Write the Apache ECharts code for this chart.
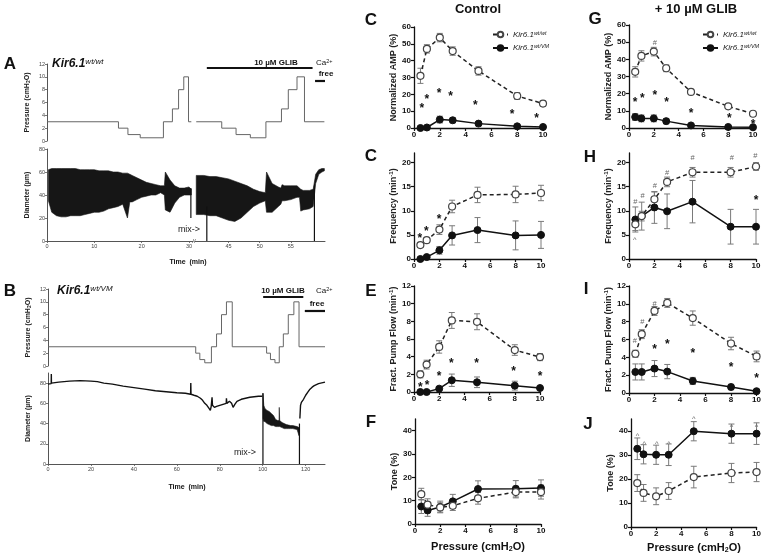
<!DOCTYPE html>
<html><head><meta charset="utf-8">
<script src="https://cdn.jsdelivr.net/npm/echarts@6/dist/echarts.min.js"></script>
<style>html,body{margin:0;padding:0;background:#fff}#c{width:764px;height:557px}</style>
</head><body><div id="c"></div>
<script>
// ================= DATA =================
const pressures = [0.5, 1, 2, 3, 5, 8, 10];
const xTicks = [0, 2, 4, 6, 8, 10];

// ---- Control column ----
const ampCtrlWt = [31, 47, 53.7, 45.7, 33.9, 19, 14.5];
const ampCtrlWtErr = [4.5, 2.5, 2.5, 2.5, 2.5, 2, 1.5];
const ampCtrlVm = [0, 0.3, 5, 4.6, 2.6, 1, 0.6];
const ampCtrlVmErr = [0, 0, 2, 1.5, 0.5, 0.4, 0.3];
const ampCtrlStars = [[0.6, 13.5], [1.0, 18.4], [1.94, 22.4], [2.84, 20.4], [4.75, 15.2], [7.6, 9.7], [9.5, 7.5]];

const freqCtrlWt = [2.9, 3.9, 6.1, 10.9, 13.3, 13.4, 13.7];
const freqCtrlWtErr = [0.5, 0.5, 1, 1.3, 1.6, 1.7, 1.6];
const freqCtrlVm = [0, 0.4, 1.8, 4.9, 6.0, 4.9, 5.0];
const freqCtrlVmErr = [0, 0, 0.8, 2, 2.6, 3, 2.8];
const freqCtrlStars = [[0.45, 4.9], [0.97, 6.2], [1.97, 8.75]];

const pumpCtrlWt = [2.0, 3.1, 5.1, 8.1, 7.95, 4.75, 3.95];
const pumpCtrlWtErr = [0.4, 0.5, 0.7, 0.9, 0.9, 0.6, 0.4];
const pumpCtrlVm = [0, 0, 0.38, 1.33, 1.1, 0.72, 0.45];
const pumpCtrlVmErr = [0, 0, 0.2, 0.7, 0.6, 0.5, 0.1];
const pumpCtrlStars = [[0.5, 0.87], [1.03, 1.0], [2, 2.1], [2.97, 3.5], [4.96, 3.6], [7.9, 2.65], [10, 2.1]];

const toneCtrlWt = [12.8, 8.3, 7.1, 7.8, 11, 13.7, 13.7];
const toneCtrlWtErr = [2.5, 2.5, 2, 2, 2.5, 2.5, 3];
const toneCtrlVm = [7.5, 5.8, 7.3, 9.7, 15, 15.1, 15.4];
const toneCtrlVmErr = [3, 2.5, 2.5, 3, 3.5, 3.5, 3.5];

// ---- + 10 uM GLIB column ----
const ampGlibWt = [32.7, 42, 44.5, 34.8, 21, 12.6, 8.3];
const ampGlibWtErr = [3, 3, 2.5, 2, 1.5, 1, 1];
const ampGlibVm = [6.4, 5.6, 5.6, 4.0, 1.5, 0.6, 0.4];
const ampGlibVmErr = [2, 2, 2, 1.5, 0.5, 0.3, 0.3];
const ampGlibStars = [[0.49, 16.4], [1.08, 18.8], [2.08, 20.3], [3.03, 16.4], [5, 10.2], [8.1, 7.2], [10, 3.9]];
const ampGlibHash = [[2.08, 49.7]];

const freqGlibWt = [7.2, 8.9, 12.4, 16, 18, 18, 19.2];
const freqGlibWtErr = [1.3, 1, 1.5, 1, 1, 1, 0.8];
const freqGlibVm = [8.2, 8.9, 10.7, 9.9, 11.9, 6.7, 6.7];
const freqGlibVmErr = [2.6, 2.9, 3.3, 3.6, 4.4, 3.6, 3.6];
const freqGlibHash = [[0.5, 11.9], [1.06, 13], [2.03, 15.1], [3, 17.8], [5, 20.9], [8.1, 20.9], [9.95, 21.4]];
const freqGlibCaret = [[0.45, 4.4]];
const freqGlibStars = [[10, 12.8]];

const pumpGlibWt = [4.4, 6.6, 9.2, 10.1, 8.4, 5.55, 4.1];
const pumpGlibWtErr = [0.4, 0.5, 0.5, 0.5, 0.8, 0.7, 0.6];
const pumpGlibVm = [2.36, 2.36, 2.74, 2.4, 1.35, 0.67, 0.2];
const pumpGlibVmErr = [0.9, 0.9, 0.9, 0.8, 0.4, 0.3, 0.1];
const pumpGlibHash = [[0.45, 5.85], [1.05, 8], [2.0, 10]];
const pumpGlibStars = [[2.0, 5.2], [3.0, 5.8], [5.0, 4.7], [8.0, 3.2], [10, 1.9]];

const toneGlibWt = [18.3, 14.2, 12.8, 15, 20.8, 22.5, 22.9];
const toneGlibWtErr = [3.5, 3.5, 3.5, 3.5, 4.5, 4, 4];
const toneGlibVm = [32.6, 30.3, 30.1, 30.1, 39.9, 38.9, 38.9];
const toneGlibVmErr = [4.5, 4, 4, 4.5, 4, 4, 4.5];
const toneGlibCaret = [[0.52, 38.9], [1.05, 35.4], [2.05, 35.4], [3.0, 35.4], [5.0, 45.8], [8.0, 42.4], [10, 42.4]];

// ---- Panel A traces (time min) ----
const timeTicksALeft = [0, 10, 20, 30];
const timeTicksARight = [45, 50, 55];
const pressureTicks = [0, 2, 4, 6, 8, 10, 12];
const diamTicks = [0, 20, 40, 60, 80];
const pressALeft = [[0, 3], [15.1, 2], [17.1, 1], [19.7, 0.5], [24.6, 3], [26.5, 5], [27.8, 8], [28.9, 10], [29.9, 3], [30.5, 3]];
const pressARight = [[39.8, 3], [43.9, 2], [46.2, 1], [48.5, 0.5], [51.0, 3], [53.5, 5], [54.6, 8], [56.0, 10], [57.2, 3], [60.4, 3]];
// [time, low envelope, high envelope] of the diameter trace
const diamALeft = [[0.3, 35, 62], [1, 25, 63], [2, 22, 63], [3, 21, 63], [4, 21, 63], [5, 22, 63], [6, 22, 63], [7, 22, 62], [8, 23, 62], [9, 24, 62], [10, 25, 62], [11, 25, 61], [12, 26, 61], [13, 28, 61], [14, 29, 60], [15, 30, 60], [16, 32, 59], [17, 20, 59], [17.5, 34, 58], [18, 34, 57], [19, 36, 55], [20, 38, 53], [21, 39, 51], [22, 40, 50], [23, 40, 49], [24, 42, 48], [24.8, 40, 48], [25, 27, 60], [26, 25, 53], [27, 33, 48], [28, 38, 46], [29, 40, 46], [30, 40, 47], [30.5, 40, 45]];
const diamARight = [[39.8, 23, 57], [41, 23, 57], [42, 22, 56], [43, 22, 56], [44, 20, 55], [45, 18, 54], [46, 17, 52], [47, 20, 50], [48, 25, 48], [49, 30, 45], [50, 33, 43], [50.9, 35, 42], [51.1, 25, 60], [52, 25, 50], [53, 30, 47], [53.4, 32, 46], [53.6, 35, 49], [54, 35, 48], [55, 36, 48], [56, 38, 48], [56.4, 38, 46], [56.6, 26, 45], [57, 27, 44], [58, 28, 44], [58.6, 30, 45], [59, 50, 58], [59.5, 58, 62], [60, 60, 63], [60.4, 61, 63]];
const spikesALeft = [[30.4, 20, 46]];
const spikesARight = [[41.5, 0, 30], [58.8, 0, 48]];
const glibA = [41.5, 58.5];
const freeA = [58.9, 60.6];

// ---- Panel B traces ----
const timeTicksB = [0, 20, 40, 60, 80, 100, 120];
const pressB = [[0, 3], [68.8, 2], [70.7, 1], [73, 0.5], [76.1, 3], [78.5, 5], [80.8, 8], [83.1, 10], [85.8, 3], [101.8, 2], [103.6, 1], [105.7, 0.5], [107.7, 3], [109.6, 5], [111.9, 8], [114.5, 10], [116.9, 3], [129, 3]];
const diamBLine1 = [[0, 79], [1.5, 79.5], [1.55, 89], [1.6, 80], [5, 81], [10, 82], [15, 82.5], [20, 82], [23, 81.5], [26, 80], [30, 79], [35, 77], [40, 75.5], [45, 74], [50, 72.5], [55, 71.5], [60, 70.5], [64, 70], [66.4, 69], [66.5, 80], [66.6, 69], [68, 68], [69.5, 67], [71, 65], [72, 63], [73, 60], [74, 58], [75, 55], [75.6, 53], [76, 57], [76.4, 66], [76.6, 58], [77.5, 56], [78.5, 57], [80, 58], [81.5, 59], [83, 60], [83.1, 65], [83.3, 60], [84.5, 62], [85.5, 60], [86.2, 56], [87, 59], [88, 62], [90, 64], [92, 65], [94, 66], [96, 66.5], [98, 67], [99.8, 67]];
const diamBBand = [[100.1, 45, 70], [100.5, 42, 58], [101, 42, 55], [102, 40, 53], [103, 39, 52], [104, 38, 50], [105, 38, 48], [106, 37, 44], [107, 37, 43], [107.6, 37, 43], [107.7, 37, 56], [107.9, 37, 43], [109, 36, 41], [110, 35, 40], [111, 35, 39], [112, 35, 38.5], [113, 35, 38], [114, 35, 38], [115, 34.5, 37.5], [116, 34, 37], [116.9, 28, 36]];
const diamBLine2 = [[117.3, 45], [117.6, 58], [118, 61], [119, 64], [120, 68], [121, 71], [122, 74], [123, 76], [124, 77.5], [125, 78.5], [126, 79.5], [127, 80], [128, 80.5], [129, 81]];
const spikesB = [[100.1, 0, 70], [117.1, 0, 40]];
const glibB = [100.2, 118.9];
const freeB = [119.6, 129];

// ================= BUILD =================
const FONT = 'Liberation Sans, Arial, Helvetica, sans-serif';
const grids = [], xAxes = [], yAxes = [], series = [];

function addGrid(box, xa, ya) {
  const gi = grids.length;
  grids.push(Object.assign({}, box));
  xAxes.push(Object.assign({ gridIndex: gi, type: 'value', splitLine: { show: false } }, xa));
  yAxes.push(Object.assign({ gridIndex: gi, type: 'value', splitLine: { show: false } }, ya));
  return gi;
}

// ---- trace axes style ----
const tLine = { show: true, onZero: false, lineStyle: { color: '#555', width: 1 } };
const tTick = (vals) => ({ show: true, length: 2, lineStyle: { color: '#555', width: 0.8 }, customValues: vals });
const tLabel = (vals) => ({ fontSize: 5.5, color: '#444', fontFamily: FONT, margin: 2, customValues: vals });
const richSub = {
  t: { fontSize: 7, fontWeight: 'bold', fontFamily: FONT, color: '#222' },
  sub: { fontSize: 5, fontWeight: 'bold', fontFamily: FONT, color: '#222', verticalAlign: 'bottom', padding: [3, 0, 0, 0] }
};
function traceY(min, max, ticks, name, show) {
  if (!show) return { min, max, show: false };
  return {
    min, max, axisLine: tLine, axisTick: tTick(ticks), axisLabel: tLabel(ticks),
    name, nameLocation: 'middle', nameGap: 16, nameRotate: 90,
    nameTextStyle: { rich: richSub }
  };
}
function traceX(min, max, ticks, showLine) {
  if (!showLine) return { min, max, show: false };
  return { min, max, axisLine: tLine, axisTick: tTick(ticks), axisLabel: tLabel(ticks) };
}
function stepLine(gi, data) {
  series.push({ type: 'line', xAxisIndex: gi, yAxisIndex: gi, data, step: 'end', symbol: 'none',
    lineStyle: { color: '#666', width: 1 }, silent: true, animation: false });
}
function band(gi, arr) {
  series.push({ type: 'custom', xAxisIndex: gi, yAxisIndex: gi, data: arr, encode: { x: 0, y: 1 }, silent: true,
    renderItem: (params, api) => {
      if (params.dataIndex !== 0) return null;
      const top = arr.map(d => api.coord([d[0], d[2]]));
      const bot = arr.map(d => api.coord([d[0], d[1]])).reverse();
      return { type: 'polygon', shape: { points: top.concat(bot) }, style: { fill: '#161616', stroke: '#161616', lineWidth: 0.6 } };
    } });
}
function spikes(gi, arr) {
  series.push({ type: 'custom', xAxisIndex: gi, yAxisIndex: gi, data: arr, encode: { x: 0, y: 1 }, silent: true,
    renderItem: (params, api) => {
      const a = api.coord([api.value(0), api.value(1)]), b = api.coord([api.value(0), api.value(2)]);
      return { type: 'line', shape: { x1: a[0], y1: a[1], x2: b[0], y2: b[1] }, style: { stroke: '#111', lineWidth: 1.2 } };
    } });
}
function traceLine(gi, data) {
  series.push({ type: 'line', xAxisIndex: gi, yAxisIndex: gi, data, symbol: 'none', silent: true,
    lineStyle: { color: '#111', width: 1.4 } });
}
function timeBar(gi, range, yPix, thick) {
  series.push({ type: 'custom', xAxisIndex: gi, yAxisIndex: gi, data: [[range[0], range[1]]], encode: { x: [0, 1] }, silent: true, clip: true,
    renderItem: (params, api) => {
      const x0 = api.coord([api.value(0), 0])[0], x1 = api.coord([api.value(1), 0])[0];
      return { type: 'rect', shape: { x: x0, y: yPix - thick / 2, width: x1 - x0, height: thick }, style: { fill: '#111' } };
    } });
}

const pressName = '{t|Pressure (cmH}{sub|2}{t|O)}';
const diamName = '{t|Diameter (µm)}';

// Panel A
let g;
g = addGrid({ left: 47, top: 64, width: 146, height: 77 }, traceX(0, 30.85, [], false), traceY(0, 12, pressureTicks, pressName, true));
stepLine(g, pressALeft);
g = addGrid({ left: 195, top: 64, width: 130, height: 77 }, traceX(39.6, 60.5, [], false), traceY(0, 12, pressureTicks, '', false));
stepLine(g, pressARight);
timeBar(g, glibA, 68, 2.2);
timeBar(g, freeA, 81, 2.2);
g = addGrid({ left: 47, top: 149, width: 146, height: 92 }, traceX(0, 30.85, timeTicksALeft, true), traceY(0, 80, diamTicks, diamName, true));
band(g, diamALeft); spikes(g, spikesALeft);
g = addGrid({ left: 195, top: 149, width: 130, height: 92 }, traceX(39.6, 60.5, timeTicksARight, true), traceY(0, 80, diamTicks, '', false));
band(g, diamARight); spikes(g, spikesARight);

// Panel B
g = addGrid({ left: 48, top: 289, width: 277, height: 77 }, traceX(0, 129, [], false), traceY(0, 12, pressureTicks, pressName, true));
stepLine(g, pressB);
timeBar(g, glibB, 297, 2.2);
timeBar(g, freeB, 311, 2.2);
g = addGrid({ left: 48, top: 373, width: 277, height: 91 }, traceX(0, 129, timeTicksB, true), traceY(0, 90, diamTicks, diamName, true));
traceLine(g, diamBLine1); band(g, diamBBand); traceLine(g, diamBLine2); spikes(g, spikesB);

// ---- summary panels ----
const pLine = { show: true, onZero: false, lineStyle: { color: '#111', width: 1.3 } };
const pTick = (vals) => ({ show: true, length: 3, lineStyle: { color: '#111', width: 1.2 }, customValues: vals });
const pLabel = (vals) => ({ fontSize: 8, fontWeight: 'bold', color: '#111', fontFamily: FONT, margin: 3, customValues: vals });
const richY = {
  t: { fontSize: 9, fontWeight: 'bold', fontFamily: FONT, color: '#222' },
  sup: { fontSize: 6, fontWeight: 'bold', fontFamily: FONT, color: '#222', verticalAlign: 'top', padding: [0, 0, 4, 0] }
};
function errSeries(gi, means, errs) {
  return { type: 'custom', xAxisIndex: gi, yAxisIndex: gi, silent: true, z: 2,
    data: pressures.map((p, i) => [p, means[i], errs[i]]), encode: { x: 0, y: 1 },
    renderItem: (params, api) => {
      const x = api.value(0), y = api.value(1), e = api.value(2);
      if (!e) return null;
      const a = api.coord([x, y - e]), b = api.coord([x, y + e]);
      const w = 3, st = { stroke: '#7a7a7a', lineWidth: 1 };
      return { type: 'group', children: [
        { type: 'line', shape: { x1: a[0], y1: a[1], x2: b[0], y2: b[1] }, style: st },
        { type: 'line', shape: { x1: a[0] - w, y1: a[1], x2: a[0] + w, y2: a[1] }, style: st },
        { type: 'line', shape: { x1: b[0] - w, y1: b[1], x2: b[0] + w, y2: b[1] }, style: st }
      ] };
    } };
}
// annotation marks (*, #, ^) drawn as text at data positions
function annSeries(gi, pts, ch, style) {
  return { type: 'custom', xAxisIndex: gi, yAxisIndex: gi, data: pts, encode: { x: 0, y: 1 }, silent: true, z: 5,
    renderItem: (params, api) => {
      const p = api.coord([api.value(0), api.value(1)]);
      return { type: 'text', x: p[0], y: p[1] + style.dy,
        style: { text: ch, fill: style.color, fontSize: style.fontSize, fontWeight: style.fontWeight || 'normal', fontFamily: FONT,
          align: 'center', verticalAlign: 'middle', textAlign: 'center', textVerticalAlign: 'middle' } };
    } };
}
const starStyle = { fontSize: 12, fontWeight: 'bold', color: '#111', dy: 3 };
const hashStyle = { fontSize: 7.5, color: '#666', dy: 0 };
const caretStyle = { fontSize: 7.5, color: '#666', dy: 2 };

function addPanel(box, yMax, yTicks, yName, d) {
  const gi = addGrid(box,
    { min: 0, max: 10, axisLine: pLine, axisTick: pTick(xTicks), axisLabel: pLabel(xTicks) },
    { min: 0, max: yMax, axisLine: pLine, axisTick: pTick(yTicks), axisLabel: pLabel(yTicks),
      name: yName, nameLocation: 'middle', nameGap: 14, nameRotate: 90, nameTextStyle: { rich: richY } });
  series.push(errSeries(gi, d.wt, d.wtErr), errSeries(gi, d.vm, d.vmErr));
  series.push({ type: 'line', name: 'vm', xAxisIndex: gi, yAxisIndex: gi, z: 3,
    data: pressures.map((p, i) => [p, d.vm[i]]), symbol: 'circle', symbolSize: 7,
    itemStyle: { color: '#111', borderColor: '#111', borderWidth: 1 }, lineStyle: { color: '#111', width: 1.5 } });
  series.push({ type: 'line', name: 'wt', xAxisIndex: gi, yAxisIndex: gi, z: 4,
    data: pressures.map((p, i) => [p, d.wt[i]]), symbol: 'circle', symbolSize: 7,
    itemStyle: { color: '#fff', borderColor: '#444', borderWidth: 1.2 }, lineStyle: { color: '#222', width: 1.5, type: [4, 3] } });
  if (d.stars) series.push(annSeries(gi, d.stars, '*', starStyle));
  if (d.hash) series.push(annSeries(gi, d.hash, '#', hashStyle));
  if (d.caret) series.push(annSeries(gi, d.caret, '^', caretStyle));
}

const ampName = '{t|Normalized AMP (%)}';
const freqName = '{t|Frequency (min}{sup|-1}{t|)}';
const pumpName = '{t|Fract. Pump Flow (min}{sup|-1}{t|)}';
const toneName = '{t|Tone (%)}';
const ampTicks = [0, 10, 20, 30, 40, 50, 60];
const freqTicks = [0, 5, 10, 15, 20];
const pumpTicks = [0, 2, 4, 6, 8, 10, 12];
const toneTicks = [0, 10, 20, 30, 40];

addPanel({ left: 414, top: 27, width: 129, height: 101 }, 60, ampTicks, ampName,
  { wt: ampCtrlWt, wtErr: ampCtrlWtErr, vm: ampCtrlVm, vmErr: ampCtrlVmErr, stars: ampCtrlStars });
addPanel({ left: 414, top: 153, width: 127, height: 106 }, 22, freqTicks, freqName,
  { wt: freqCtrlWt, wtErr: freqCtrlWtErr, vm: freqCtrlVm, vmErr: freqCtrlVmErr, stars: freqCtrlStars });
addPanel({ left: 414, top: 286, width: 126, height: 106 }, 12, pumpTicks, pumpName,
  { wt: pumpCtrlWt, wtErr: pumpCtrlWtErr, vm: pumpCtrlVm, vmErr: pumpCtrlVmErr, stars: pumpCtrlStars });
addPanel({ left: 415, top: 419, width: 126, height: 105 }, 45, toneTicks, toneName,
  { wt: toneCtrlWt, wtErr: toneCtrlWtErr, vm: toneCtrlVm, vmErr: toneCtrlVmErr });

addPanel({ left: 629, top: 25, width: 124, height: 103 }, 60, ampTicks, ampName,
  { wt: ampGlibWt, wtErr: ampGlibWtErr, vm: ampGlibVm, vmErr: ampGlibVmErr, stars: ampGlibStars, hash: ampGlibHash });
addPanel({ left: 629, top: 153, width: 127, height: 106 }, 22, freqTicks, freqName,
  { wt: freqGlibWt, wtErr: freqGlibWtErr, vm: freqGlibVm, vmErr: freqGlibVmErr, stars: freqGlibStars, hash: freqGlibHash, caret: freqGlibCaret });
addPanel({ left: 629, top: 286, width: 128, height: 107 }, 12, pumpTicks, pumpName,
  { wt: pumpGlibWt, wtErr: pumpGlibWtErr, vm: pumpGlibVm, vmErr: pumpGlibVmErr, stars: pumpGlibStars, hash: pumpGlibHash });
addPanel({ left: 631, top: 419, width: 127, height: 108 }, 45, toneTicks, toneName,
  { wt: toneGlibWt, wtErr: toneGlibWtErr, vm: toneGlibVm, vmErr: toneGlibVmErr, caret: toneGlibCaret });

// ---- legends ----
function legendAt(l, t) {
  return { left: l, top: t, orient: 'vertical', itemWidth: 15, itemHeight: 7, itemGap: 5, selectedMode: false,
    data: ['wt', 'vm'],
    formatter: n => '{i|Kir6.1}{s|' + (n === 'wt' ? 'wt/wt' : 'wt/VM') + '}',
    textStyle: { rich: {
      i: { fontSize: 8, fontStyle: 'italic', fontFamily: FONT, color: '#222' },
      s: { fontSize: 5.5, fontStyle: 'italic', fontFamily: FONT, color: '#222', verticalAlign: 'top', padding: [0, 0, 3, 0] } } } };
}

// ---- text annotations ----
function txt(x, y, text, o) {
  const st = Object.assign({ text, fill: '#111', fontFamily: FONT, fontSize: 10, align: 'left', verticalAlign: 'middle',
    textAlign: 'left', textVerticalAlign: 'middle' }, o || {});
  if (o && o.align) st.textAlign = o.align;
  return { type: 'text', x, y, silent: true, style: st };
}
const letter = { fontSize: 17, fontWeight: 'bold', align: 'center' };
const kirRich = {
  k: { fontSize: 12, fontWeight: 'bold', fontStyle: 'italic', fontFamily: FONT, fill: '#111', color: '#111' },
  s: { fontSize: 8, fontStyle: 'italic', fontFamily: FONT, fill: '#111', color: '#111', verticalAlign: 'top', padding: [0, 0, 5, 0] }
};
const smallBold = { fontSize: 8, fontWeight: 'bold' };
const caRich = { a: { fontSize: 8, fontFamily: FONT, color: '#111' }, b: { fontSize: 5.5, fontFamily: FONT, color: '#111', verticalAlign: 'top', padding: [0, 0, 3, 0] } };
const pressRich = { t: { fontSize: 11, fontWeight: 'bold', fontFamily: FONT, color: '#111' }, s: { fontSize: 7, fontWeight: 'bold', fontFamily: FONT, color: '#111', verticalAlign: 'bottom', padding: [4, 0, 0, 0] } };
const graphics = [
  txt(10, 64, 'A', letter), txt(10, 291, 'B', letter),
  txt(52, 64, '{k|Kir6.1}{s|wt/wt}', { rich: kirRich }),
  txt(57, 291, '{k|Kir6.1}{s|wt/VM}', { rich: kirRich }),
  txt(276, 63, '10 µM GLIB', Object.assign({ align: 'center' }, smallBold)),
  txt(316, 63, '{a|Ca}{b|2+}', { rich: caRich }),
  txt(326, 74, 'free', Object.assign({ align: 'center' }, smallBold)),
  txt(283, 291, '10 µM GLIB', Object.assign({ align: 'center' }, smallBold)),
  txt(316, 291, '{a|Ca}{b|2+}', { rich: caRich }),
  txt(317, 304, 'free', Object.assign({ align: 'center' }, smallBold)),
  txt(188, 262, 'Time  (min)', { fontSize: 7, fontWeight: 'bold', align: 'center' }),
  txt(187, 487, 'Time  (min)', { fontSize: 7, fontWeight: 'bold', align: 'center' }),
  txt(189, 230, 'mix->', { fontSize: 9, align: 'center', fill: '#222' }),
  txt(245, 453, 'mix->', { fontSize: 9, align: 'center', fill: '#222' }),
  txt(194, 241, '//', { fontSize: 6, align: 'center', fill: '#444' }),
  txt(478, 9, 'Control', { fontSize: 13, fontWeight: 'bold', align: 'center' }),
  txt(696, 9, '+ 10 µM GLIB', { fontSize: 13, fontWeight: 'bold', align: 'center' }),
  txt(371, 20, 'C', letter), txt(371, 156, 'C', letter), txt(371, 291, 'E', letter), txt(371, 422, 'F', letter),
  txt(595, 19, 'G', letter), txt(590, 157, 'H', letter), txt(586, 289, 'I', letter), txt(588, 424, 'J', letter),
  txt(478, 547, '{t|Pressure (cmH}{s|2}{t|O)}', { align: 'center', rich: pressRich }),
  txt(694, 548, '{t|Pressure (cmH}{s|2}{t|O)}', { align: 'center', rich: pressRich })
];

const chart = echarts.init(document.getElementById('c'), null, { renderer: 'canvas', width: 764, height: 557 });
chart.setOption({
  animation: false,
  backgroundColor: '#fff',
  textStyle: { fontFamily: FONT },
  grid: grids, xAxis: xAxes, yAxis: yAxes, series,
  legend: [legendAt(487, 25), legendAt(697, 25)],
  graphic: graphics
});
</script></body></html>
